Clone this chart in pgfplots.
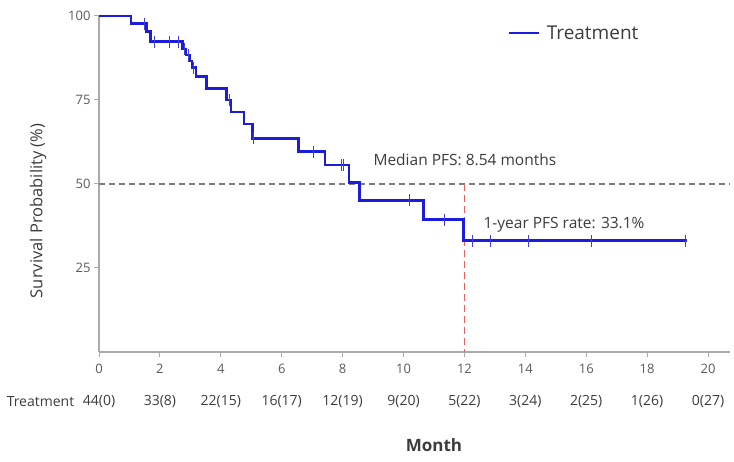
\documentclass[border=0pt]{standalone}
\usepackage{fontspec}
\setmainfont{Open Sans}
\usepackage{pgfplots}
\usepackage{pgfplotstable}
\pgfplotsset{compat=1.18}
\definecolor{kmblue}{RGB}{28,28,220}
\definecolor{axgray}{RGB}{170,170,170}
\definecolor{txgray}{RGB}{60,60,60}
\definecolor{tkgray}{RGB}{90,90,90}
\definecolor{dashgray}{RGB}{125,125,125}
\definecolor{medred}{RGB}{232,95,95}
\pgfplotstableread{
x y
0 100
1.05 97.7
1.55 95.3
1.70 92.4
2.75 90.2
2.86 88.4
2.98 86.6
3.06 84.6
3.19 82.0
3.53 78.5
4.19 75.0
4.33 71.4
4.76 67.8
5.05 63.6
6.55 59.6
7.42 55.7
8.21 50.4
8.55 45.1
10.65 39.4
11.96 33.1
19.30 33.1
}\kmdata
\pgfplotstableread{
x y
1.50 97.7
1.81 92.4
2.33 92.4
2.60 92.4
2.80 90.2
2.95 88.4
3.10 84.6
4.28 75.0
5.08 63.6
7.04 59.6
7.95 55.7
8.02 55.7
10.21 45.1
11.33 39.4
12.26 33.1
12.84 33.1
14.10 33.1
16.18 33.1
19.27 33.1
}\censdata
\begin{document}
\begin{tikzpicture}[x=1pt,y=1pt]
\useasboundingbox (0,0) rectangle (734,462);
\begin{axis}[
  at={(99pt,110pt)}, anchor=south west,
  scale only axis, width=631pt, height=336pt,
  xmin=0, xmax=20.72, ymin=0, ymax=100,
  axis x line=bottom, axis y line=left,
  axis line style={axgray, line width=1.3pt, -},
  xtick={0,2,...,20}, ytick={25,50,75,100},
  tick align=outside, major tick length=5pt,
  tick style={axgray, line width=1pt},
  tick label style={font=\fontsize{13}{13}\selectfont, text=tkgray},
  xticklabel style={yshift=-4pt},
  /pgf/number format/assume math mode=true,
  clip=false,
  legend style={at={(rel axis cs:0.6466,0.949)}, anchor=west, draw=none, fill=none,
    inner sep=0pt, font=\fontsize{19}{19}\selectfont, text=txgray,
    nodes={inner xsep=7pt}},
  legend image code/.code={\draw[#1] (0pt,0pt) -- (30pt,0pt);},
]
\addplot[dashgray, line width=1.3pt, dash pattern=on 6pt off 4pt, forget plot] coordinates {(0,50) (20.72,50)};
\addplot[medred, line width=1.7pt, dash pattern=on 7pt off 4pt, forget plot] coordinates {(12,50) (12,0)};
\addplot[kmblue, line width=2.6pt, const plot, no marks] table[x=x,y=y]{\kmdata};
\addlegendentry{Treatment}
\addplot[kmblue!85!white, only marks, mark=|, mark size=6pt, mark options={line width=1pt}, forget plot] table[x=x,y=y]{\censdata};
\end{axis}
\node[anchor=west, text=txgray, font=\fontsize{15.5}{15.5}\selectfont] at (370,302) {Median PFS: 8.54 months};
\node[anchor=west, text=txgray, font=\fontsize{15.5}{15.5}\selectfont] at (480,237) {1-year PFS rate: 33.1\%};
\node[text=txgray, font=\fontsize{14}{14}\selectfont] at (40.5,60) {Treatment};
\foreach \lab [count=\i from 0] in {44(0),33(8),22(15),16(17),12(19),9(20),5(22),3(24),2(25),1(26),0(27)}
  \node[text=txgray, font=\fontsize{14}{14}\selectfont] at ({99+60.9*\i},60) {\lab};
\node[text=txgray, font=\bfseries\fontsize{17}{17}\selectfont] at (434,17) {Month};
\node[rotate=90, text=txgray, font=\fontsize{16.5}{16.5}\selectfont] at (38,251) {Survival Probability (\%)};
\end{tikzpicture}
\end{document}
